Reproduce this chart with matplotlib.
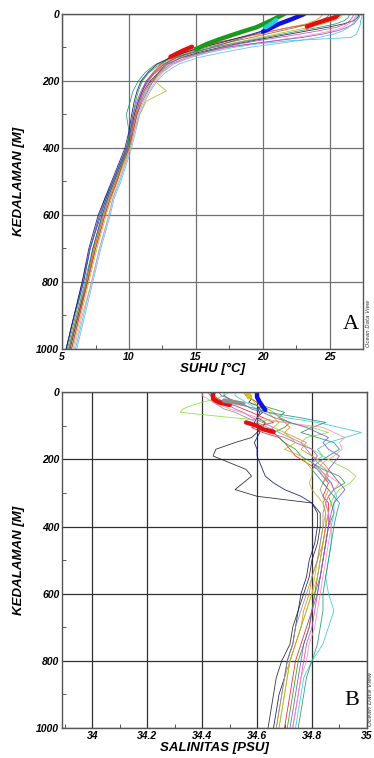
import numpy as np
import matplotlib as mpl
mpl.use('Agg')
import matplotlib.pyplot as plt
from matplotlib.ticker import MultipleLocator

# --- panel A: temperature profiles (deg C) ---
depth_t = [0, 10, 20, 30, 40, 50, 60, 70, 80, 90, 100, 115, 130, 150, 175,
           200, 230, 260, 300, 350, 400, 450, 500, 550, 600, 700, 800, 900, 1000]

temp_profiles = {
    'black':   [27.2, 27.1, 26.8, 26.0, 24.8, 23.4, 22.0, 20.6, 19.2, 18.0, 16.8, 15.2, 13.9, 12.9, 12.2,
                11.6, 11.1, 10.8, 10.5, 10.2, 9.9, 9.4, 8.9, 8.4, 8.0, 7.3, 6.8, 6.2, 5.6],
    'red':     [25.8, 25.6, 25.0, 23.6, 22.0, 20.8, 19.6, 18.4, 17.2, 16.0, 14.9, 13.9, 13.0, 12.4, 11.8,
                11.3, 11.0, 10.7, 10.4, 10.2, 10.0, 9.5, 9.0, 8.5, 8.1, 7.4, 6.9, 6.2, 5.5],
    'green':   [21.6, 21.2, 20.6, 20.0, 19.3, 18.6, 17.9, 17.3, 16.6, 15.9, 15.2, 14.2, 13.3, 12.3, 11.5,
                11.0, 10.7, 10.5, 10.3, 10.1, 9.9, 9.3, 8.8, 8.3, 7.8, 7.1, 6.6, 6.0, 5.4],
    'blue':    [23.2, 22.7, 21.6, 21.0, 20.5, 20.1, 19.4, 18.6, 17.8, 17.0, 16.2, 14.8, 13.6, 12.6, 11.9,
                11.4, 11.0, 10.7, 10.4, 10.1, 9.8, 9.3, 8.8, 8.3, 7.9, 7.1, 6.6, 5.9, 5.3],
    'cyan':    [27.4, 27.4, 27.3, 27.3, 27.2, 27.1, 27.0, 26.6, 22.0, 19.5, 17.8, 16.0, 14.6, 13.3, 12.4,
                11.8, 11.3, 10.9, 10.6, 10.3, 10.1, 9.7, 9.3, 8.8, 8.5, 7.8, 7.2, 6.6, 6.0],
    'magenta': [26.8, 26.7, 26.5, 26.2, 25.5, 24.2, 22.8, 21.2, 19.6, 18.2, 16.9, 15.6, 14.3, 13.1, 12.3,
                11.7, 11.2, 10.9, 10.6, 10.3, 10.0, 9.5, 9.1, 8.6, 8.2, 7.5, 6.9, 6.3, 5.7],
    'orange':  [24.5, 24.3, 23.9, 23.2, 22.0, 20.9, 19.8, 18.6, 17.5, 16.5, 15.5, 14.4, 13.4, 12.5, 11.9,
                11.5, 11.1, 10.8, 10.5, 10.2, 10.0, 9.5, 9.0, 8.5, 8.1, 7.4, 6.8, 6.1, 5.5],
    'olive':   [26.0, 25.8, 25.3, 24.5, 23.5, 22.2, 21.0, 19.8, 18.6, 17.4, 16.2, 14.9, 13.8, 12.9, 12.3,
                11.9, 12.8, 11.3, 10.8, 10.4, 10.1, 9.6, 9.1, 8.7, 8.3, 7.6, 7.0, 6.4, 5.8],
    'pink':    [27.0, 26.9, 26.7, 26.4, 26.0, 25.2, 24.0, 22.5, 20.8, 19.0, 17.4, 15.8, 14.5, 13.3, 12.5,
                12.0, 11.5, 11.1, 10.7, 10.4, 10.1, 9.7, 9.2, 8.8, 8.5, 7.8, 7.2, 6.5, 5.9],
    'purple':  [27.3, 27.2, 27.0, 26.8, 26.3, 25.6, 24.5, 23.0, 21.0, 19.0, 17.2, 15.5, 14.0, 12.8, 12.0,
                11.3, 10.9, 10.6, 10.3, 10.1, 9.8, 9.3, 8.8, 8.2, 7.8, 7.1, 6.5, 5.9, 5.3],
    'teal':    [26.5, 26.4, 26.1, 25.4, 24.2, 22.8, 21.5, 20.2, 18.9, 17.6, 16.3, 14.8, 13.2, 12.0, 11.2,
                10.7, 10.3, 10.1, 9.8, 10.0, 9.9, 9.4, 8.9, 8.4, 8.0, 7.3, 6.7, 6.1, 5.5],
    'brown':   [25.0, 24.8, 24.3, 23.5, 22.5, 21.4, 20.3, 19.2, 18.0, 16.9, 15.8, 14.6, 13.5, 12.7, 12.2,
                11.8, 11.4, 11.0, 10.6, 10.3, 10.0, 9.5, 9.1, 8.6, 8.2, 7.5, 6.9, 6.3, 5.7],
    'skyblue': [27.1, 27.0, 26.9, 26.7, 26.4, 26.0, 25.3, 24.2, 22.6, 20.8, 19.0, 17.0, 15.2, 13.7, 12.7,
                12.1, 11.6, 11.2, 10.8, 10.5, 10.2, 9.8, 9.4, 8.9, 8.6, 7.9, 7.3, 6.7, 6.1],
    'navy':    [22.8, 22.5, 22.0, 21.4, 20.7, 20.0, 19.2, 18.3, 17.4, 16.4, 15.4, 14.2, 13.1, 12.1, 11.4,
                10.9, 10.6, 10.4, 10.2, 10.0, 9.7, 9.2, 8.7, 8.2, 7.7, 7.0, 6.5, 5.9, 5.3],
}

# thick highlighted segments (depth, value)
temp_thick = [
    ('#1a9a1a', [0, 20, 40, 55, 75, 90, 105], [21.6, 20.6, 19.5, 18.3, 16.8, 15.8, 15.0]),
    ('#e01010', [0, 10, 20, 30, 38], [25.7, 25.4, 24.6, 23.8, 23.3]),
    ('#e01010', [98, 110, 120, 128], [14.7, 14.0, 13.5, 13.1]),
    ('#1010e0', [0, 15, 30, 42, 53], [23.1, 22.2, 21.2, 20.6, 20.0]),
    ('#20d0e0', [18, 28, 40], [21.0, 20.7, 20.2]),
]

# --- panel B: salinity profiles (PSU) ---
depth_s = [0, 10, 20, 30, 40, 50, 60, 75, 90, 105, 120, 135, 150, 170, 190, 210, 230, 250,
           270, 290, 310, 330, 360, 400, 450, 500, 550, 600, 650, 700, 750, 800, 850, 900, 950, 1000]

sal_profiles = {
    'black':   [34.56, 34.56, 34.58, 34.57, 34.60, 34.61, 34.62, 34.60, 34.63, 34.62, 34.60, 34.58,
                34.52, 34.45, 34.44, 34.50, 34.56, 34.58, 34.55, 34.52, 34.60, 34.80, 34.83, 34.83,
                34.82, 34.80, 34.79, 34.77, 34.75, 34.73, 34.72, 34.69, 34.67, 34.66, 34.65, 34.64],
    'navy':    [34.60, 34.60, 34.61, 34.60, 34.62, 34.60, 34.61, 34.60, 34.59, 34.60, 34.61, 34.60,
                34.59, 34.60, 34.60, 34.61, 34.62, 34.63, 34.66, 34.70, 34.76, 34.80, 34.82, 34.82,
                34.81, 34.79, 34.78, 34.76, 34.75, 34.74, 34.73, 34.71, 34.70, 34.68, 34.67, 34.66],
    'red':     [34.45, 34.44, 34.46, 34.48, 34.52, 34.55, 34.58, 34.62, 34.66, 34.58, 34.62, 34.68,
                34.70, 34.72, 34.74, 34.78, 34.82, 34.84, 34.86, 34.85, 34.84, 34.86, 34.86, 34.85,
                34.84, 34.83, 34.82, 34.81, 34.80, 34.78, 34.76, 34.74, 34.73, 34.72, 34.71, 34.70],
    'green':   [34.55, 34.56, 34.58, 34.60, 34.62, 34.66, 34.70, 34.68, 34.72, 34.70, 34.66, 34.68,
                34.70, 34.74, 34.76, 34.80, 34.84, 34.90, 34.92, 34.88, 34.86, 34.87, 34.88, 34.86,
                34.85, 34.84, 34.83, 34.81, 34.80, 34.79, 34.77, 34.75, 34.74, 34.73, 34.72, 34.71],
    'cyan':    [34.52, 34.52, 34.54, 34.56, 34.58, 34.60, 34.64, 34.70, 34.82, 34.90, 34.98, 34.92,
                34.86, 34.82, 34.84, 34.80, 34.82, 34.84, 34.87, 34.88, 34.89, 34.88, 34.88, 34.87,
                34.87, 34.86, 34.85, 34.86, 34.88, 34.86, 34.84, 34.80, 34.77, 34.76, 34.75, 34.74],
    'lime':    [34.50, 34.48, 34.45, 34.40, 34.36, 34.33, 34.32, 34.50, 34.70, 34.80, 34.86, 34.78,
                34.76, 34.80, 34.84, 34.88, 34.93, 34.96, 34.94, 34.90, 34.88, 34.87, 34.86, 34.85,
                34.84, 34.83, 34.82, 34.80, 34.78, 34.76, 34.74, 34.72, 34.71, 34.70, 34.69, 34.68],
    'magenta': [34.42, 34.43, 34.45, 34.48, 34.50, 34.52, 34.55, 34.58, 34.62, 34.66, 34.64, 34.70,
                34.74, 34.80, 34.82, 34.80, 34.83, 34.85, 34.87, 34.88, 34.86, 34.85, 34.86, 34.86,
                34.85, 34.84, 34.83, 34.82, 34.81, 34.80, 34.78, 34.77, 34.76, 34.75, 34.74, 34.73],
    'orange':  [34.57, 34.58, 34.58, 34.60, 34.62, 34.64, 34.66, 34.68, 34.70, 34.72, 34.70, 34.74,
                34.78, 34.76, 34.80, 34.84, 34.86, 34.85, 34.84, 34.86, 34.85, 34.84, 34.85, 34.85,
                34.84, 34.82, 34.80, 34.79, 34.77, 34.76, 34.74, 34.72, 34.70, 34.69, 34.68, 34.67],
    'teal':    [34.48, 34.48, 34.50, 34.52, 34.55, 34.60, 34.64, 34.75, 34.85, 34.80, 34.76, 34.82,
                34.88, 34.90, 34.86, 34.82, 34.80, 34.82, 34.84, 34.86, 34.88, 34.90, 34.89, 34.88,
                34.87, 34.86, 34.85, 34.84, 34.84, 34.83, 34.82, 34.80, 34.78, 34.77, 34.76, 34.75],
    'pink':    [34.40, 34.40, 34.42, 34.44, 34.47, 34.50, 34.54, 34.60, 34.70, 34.84, 34.88, 34.92,
                34.90, 34.91, 34.88, 34.84, 34.82, 34.86, 34.90, 34.88, 34.86, 34.85, 34.86, 34.87,
                34.86, 34.85, 34.84, 34.83, 34.82, 34.81, 34.79, 34.78, 34.76, 34.75, 34.74, 34.73],
    'olive':   [34.58, 34.57, 34.58, 34.59, 34.60, 34.62, 34.64, 34.66, 34.68, 34.66, 34.70, 34.72,
                34.74, 34.70, 34.76, 34.78, 34.80, 34.80, 34.79, 34.80, 34.82, 34.84, 34.85, 34.84,
                34.83, 34.82, 34.81, 34.80, 34.78, 34.76, 34.74, 34.72, 34.71, 34.70, 34.69, 34.68],
    'purple':  [34.46, 34.47, 34.50, 34.53, 34.56, 34.58, 34.62, 34.66, 34.72, 34.78, 34.82, 34.86,
                34.84, 34.86, 34.90, 34.88, 34.86, 34.88, 34.90, 34.92, 34.90, 34.88, 34.87, 34.86,
                34.85, 34.84, 34.83, 34.82, 34.80, 34.79, 34.77, 34.76, 34.75, 34.74, 34.73, 34.72],
    'gray':    [34.43, 34.43, 34.44, 34.44, 34.46, 34.48, 34.52, 34.56, 34.60, 34.64, 34.68, 34.72,
                34.76, 34.78, 34.80, 34.82, 34.85, 34.86, 34.84, 34.83, 34.84, 34.85, 34.84, 34.84,
                34.83, 34.82, 34.80, 34.78, 34.76, 34.74, 34.73, 34.71, 34.70, 34.69, 34.68, 34.67],
}

sal_thick = [
    ('#e01010', [0, 10, 20, 30, 38], [34.44, 34.44, 34.44, 34.46, 34.50]),
    ('#e01010', [90, 100, 110, 118], [34.56, 34.60, 34.62, 34.66]),
    ('#1010e0', [0, 15, 30, 42, 53], [34.60, 34.60, 34.61, 34.62, 34.63]),
    ('#909090', [25, 30, 35], [34.48, 34.52, 34.55]),
    ('#e0c020', [0, 8, 15], [34.56, 34.57, 34.57]),
]

line_colors = {
    'black': '#202020', 'red': '#e02020', 'green': '#20a020', 'blue': '#2030d0',
    'cyan': '#30c8d8', 'magenta': '#d040c0', 'orange': '#f08020', 'olive': '#c0b020',
    'pink': '#f090b0', 'purple': '#8050c0', 'teal': '#209080', 'brown': '#906030',
    'skyblue': '#70b0f0', 'navy': '#101070', 'lime': '#80e040', 'gray': '#909090',
}

tick_font = dict(family='Liberation Sans', weight='bold', style='italic', size=7.5)
label_font = dict(family='Liberation Sans', weight='bold', style='italic', size=9.5)


def style_axes(ax, grid_color):
    ax.set_ylim(1000, 0)
    ax.yaxis.set_major_locator(MultipleLocator(200))
    ax.yaxis.set_minor_locator(MultipleLocator(100))
    ax.grid(True, which='major', color=grid_color, lw=0.9)
    ax.set_axisbelow(True)
    ax.tick_params(which='both', direction='in', length=3, color='#555555', width=0.7, pad=2)
    ax.tick_params(which='major', length=0)
    for lab in ax.get_xticklabels() + ax.get_yticklabels():
        lab.set_fontproperties(mpl.font_manager.FontProperties(**tick_font))
    for sp in ax.spines.values():
        sp.set_color('#555555')
        sp.set_linewidth(1.0)
    ax.set_ylabel('KEDALAMAN [M]', fontdict=label_font, labelpad=8)


def main():
    fig = plt.figure(figsize=(3.74, 7.58), dpi=100)

    # panel A
    ax1 = fig.add_axes([0.166, 0.5396, 0.805, 0.442])
    for name, vals in temp_profiles.items():
        ax1.plot(vals, depth_t, color=line_colors[name], lw=0.6, alpha=0.9)
    for col, d, v in temp_thick:
        ax1.plot(v, d, color=col, lw=3.2, solid_capstyle='round')
    ax1.set_xlim(5, 27.5)
    ax1.xaxis.set_major_locator(MultipleLocator(5))
    ax1.xaxis.set_minor_locator(MultipleLocator(2.5))
    style_axes(ax1, '#707070')
    ax1.set_xlabel('SUHU [°C]', fontdict=label_font, labelpad=1)
    ax1.text(0.987, 0.045, 'A', transform=ax1.transAxes, ha='right', va='bottom',
             family='Liberation Serif', fontsize=16)
    fig.text(0.985, 0.542, 'Ocean Data View', rotation=90, fontsize=4,
             style='italic', ha='center', va='bottom', color='#333333')

    # panel B
    ax2 = fig.add_axes([0.166, 0.0396, 0.815, 0.443])
    for name, vals in sal_profiles.items():
        ax2.plot(vals, depth_s, color=line_colors[name], lw=0.6, alpha=0.9)
    for col, d, v in sal_thick:
        ax2.plot(v, d, color=col, lw=3.2, solid_capstyle='round')
    ax2.set_xlim(33.89, 35.0)
    ax2.xaxis.set_major_locator(MultipleLocator(0.2))
    ax2.xaxis.set_minor_locator(MultipleLocator(0.1))
    ax2.xaxis.set_major_formatter(mpl.ticker.FuncFormatter(lambda x, p: f'{x:g}'))
    style_axes(ax2, '#303030')
    ax2.set_xlabel('SALINITAS [PSU]', fontdict=label_font, labelpad=1)
    ax2.text(0.975, 0.055, 'B', transform=ax2.transAxes, ha='right', va='bottom',
             family='Liberation Serif', fontsize=16)
    fig.text(0.991, 0.042, 'Ocean Data View', rotation=90, fontsize=4.5,
             style='italic', ha='center', va='bottom', color='#333333')

    plt.savefig('out.png', dpi=100)
    plt.close()


if __name__ == '__main__':
    main()
